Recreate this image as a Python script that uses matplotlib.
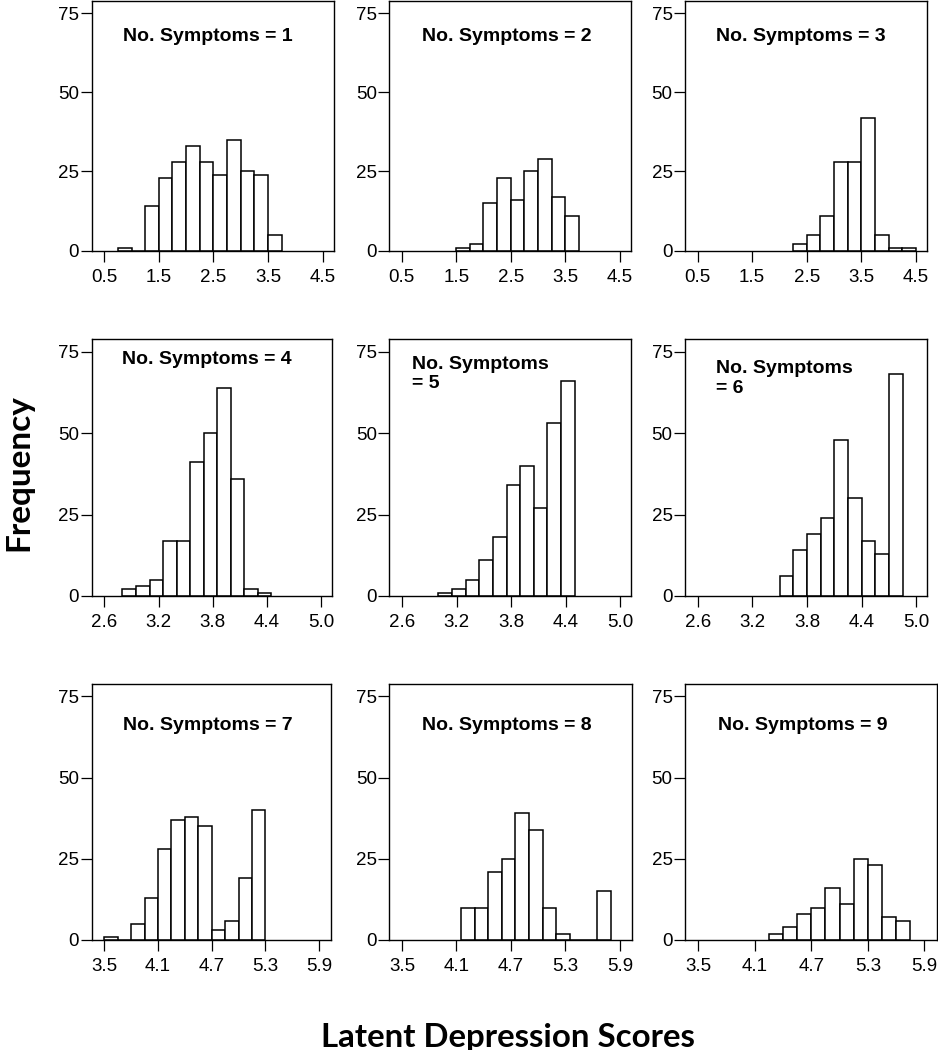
import numpy as np
import matplotlib
matplotlib.use("Agg")
import matplotlib.pyplot as plt

plt.rcParams["font.family"] = ["Liberation Sans", "DejaVu Sans"]

W, H = 938, 1050

# ── Histogram data (left edge of first bin, bin width, counts) ───────────────
starts = [0.75, 1.5, 2.25,
          2.8, 3.0, 3.5,
          3.5, 4.15, 4.25]
widths = [0.25, 0.25, 0.25,
          0.15, 0.15, 0.15,
          0.15, 0.15, 0.15]
counts = [
    [1, 0, 14, 23, 28, 33, 28, 24, 35, 25, 24, 5],
    [1, 2, 15, 23, 16, 25, 29, 17, 11],
    [2, 5, 11, 28, 28, 42, 5, 1, 1],
    [2, 3, 5, 17, 17, 41, 50, 64, 36, 2, 1],
    [1, 2, 5, 11, 18, 34, 40, 27, 53, 66],
    [6, 14, 19, 24, 48, 30, 17, 13, 68],
    [1, 0, 5, 13, 28, 37, 38, 35, 3, 6, 19, 40],
    [10, 10, 21, 25, 39, 34, 10, 2, 0, 0, 15],
    [2, 4, 8, 10, 16, 11, 25, 23, 7, 6],
]
titles = ["No. Symptoms = 1", "No. Symptoms = 2", "No. Symptoms = 3",
          "No. Symptoms = 4", "No. Symptoms\n= 5", "No. Symptoms\n= 6",
          "No. Symptoms = 7", "No. Symptoms = 8", "No. Symptoms = 9"]

row_xticks = [[0.5, 1.5, 2.5, 3.5, 4.5],
              [2.6, 3.2, 3.8, 4.4, 5.0],
              [3.5, 4.1, 4.7, 5.3, 5.9]]
row_xlim = [(0.27, 4.71), (2.46, 5.12), (3.36, 6.03)]
yticks = [0, 25, 50, 75]

# ── Layout (pixel boxes: left, right, top, bottom) ───────────────────────────
boxes = [
    (91.7, 334.0, 1.0, 250.7), (389.3, 631.0, 1.0, 250.7), (685.0, 927.3, 1.0, 250.7),
    (91.7, 332.0, 339.3, 596.0), (389.3, 631.0, 339.3, 596.0), (685.0, 927.3, 339.3, 596.0),
    (91.7, 330.7, 684.0, 940.0), (389.3, 631.7, 684.0, 940.0), (685.0, 936.7, 684.0, 940.0),
]
# title anchor (axes fraction, top-left of text)
title_pos = [(0.13, 0.891), (0.134, 0.891), (0.128, 0.891),
             (0.125, 0.956), (0.095, 0.936), (0.128, 0.919),
             (0.13, 0.870), (0.134, 0.870), (0.13, 0.870)]

fig = plt.figure(figsize=(W / 100, H / 100), dpi=100)
fig.patch.set_facecolor("white")

for i in range(9):
    l, r, t, b = boxes[i]
    ax = fig.add_axes([l / W, 1 - b / H, (r - l) / W, (b - t) / H])
    row = i // 3
    n = len(counts[i])
    edges = starts[i] + widths[i] * np.arange(n)
    ax.bar(edges, counts[i], width=widths[i], align="edge",
           facecolor="white", edgecolor="black", linewidth=1.1, zorder=2)

    ax.set_xlim(*row_xlim[row])
    ax.set_ylim(0, 78.8)
    ax.set_xticks(row_xticks[row])
    ax.set_xticklabels([f"{v:.1f}" for v in row_xticks[row]])
    ax.set_yticks(yticks)
    ax.tick_params(direction="out", length=8, width=0.9, labelsize=13.5,
                   colors="black")
    ax.tick_params(axis="y", pad=1)
    ax.tick_params(axis="x", pad=5)
    for sp in ax.spines.values():
        sp.set_linewidth(1.0)
        sp.set_color("black")

    tx, ty = title_pos[i]
    ax.text(tx, ty, titles[i], transform=ax.transAxes, ha="left", va="top",
            fontsize=14, fontweight="bold", linespacing=1.2)

fig.text(19 / W, 1 - 472.5 / H, "Frequency", rotation=90, ha="center",
         va="center", fontsize=24, fontweight="bold", family=["Lato", "DejaVu Sans"])
fig.text(508 / W, 1 - 1037 / H, "Latent Depression Scores", ha="center",
         va="center", fontsize=23.8, fontweight="bold", family=["Lato", "DejaVu Sans"])

fig.savefig("out.png", dpi=100, facecolor="white")
